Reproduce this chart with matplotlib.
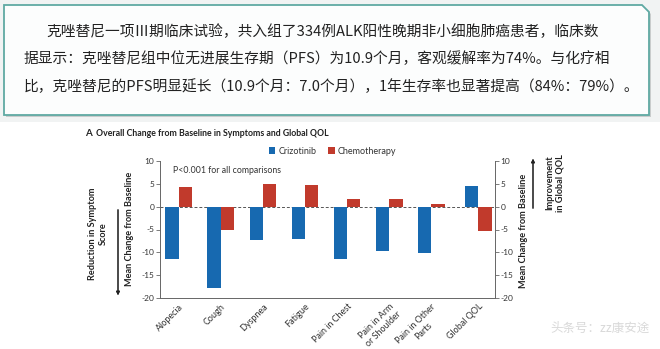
"""
Crizotinib vs chemotherapy: change from baseline in symptoms and global QOL,
with the Chinese summary box on top.
"""
import numpy as np
import matplotlib
matplotlib.use('Agg')
import matplotlib.pyplot as plt
from matplotlib.patches import Polygon, Rectangle

W, H = 660, 349

# --- data ---
categories = ["Alopecia", "Cough", "Dyspnea", "Fatigue", "Pain in Chest",
              "Pain in Arm\nor Shoulder", "Pain in Other\nParts", "Global QOL"]
crizotinib = [-11.5, -17.9, -7.3, -7.1, -11.5, -9.7, -10.1, 4.5]
chemotherapy = [4.2, -5.2, 5.0, 4.7, 1.6, 1.6, 0.5, -5.4]
yticks = [10, 5, 0, -5, -10, -15, -20]

summary_lines = [
    "克唑替尼一项Ⅲ期临床试验，共入组了334例ALK阳性晚期非小细胞肺癌患者，临床数",
    "据显示：克唑替尼组中位无进展生存期（PFS）为10.9个月，客观缓解率为74%。与化疗相",
    "比，克唑替尼的PFS明显延长（10.9个月：7.0个月），1年生存率也显著提高（84%：79%）。",
]

BLUE = '#1769b0'
RED = '#c13a2c'
INK = '#333333'
SANS = ['Lato', 'DejaVu Sans']
CJK = ['Noto Sans CJK SC', 'DejaVu Sans']


def fx(px):
    return px / W


def fy(py):
    return 1 - py / H


fig = plt.figure(figsize=(W / 100, H / 100), dpi=100, facecolor='white')

# --- summary box on top ---
fig.add_artist(Rectangle((0, fy(122)), 1, 122 / H, transform=fig.transFigure,
                         facecolor='#f1f3f3', edgecolor='none', zorder=0))
box = [(4, 5), (642, 5), (649, 12), (649, 115), (4, 115)]
shadow = [(x + 2, y + 2) for x, y in box]
fig.add_artist(Polygon([(fx(x), fy(y)) for x, y in shadow], closed=True,
                       transform=fig.transFigure, facecolor='#c9cccc',
                       edgecolor='none', zorder=1))
fig.add_artist(Polygon([(fx(x), fy(y)) for x, y in box], closed=True,
                       transform=fig.transFigure, facecolor='#fcfdfd',
                       edgecolor='#5fa9a3', linewidth=1.3, zorder=2))

for (x0, y0), line in zip([(46, 32), (24, 59), (24, 87)], summary_lines):
    fig.text(fx(x0), fy(y0), line, family=CJK, fontsize=10.6, color='#222222',
             ha='left', va='center', zorder=3)

# --- bar chart ---
ax = fig.add_axes([fx(160), fy(298), fx(495) - fx(160), fy(161) - fy(298)])
x = np.arange(len(categories), dtype=float)
x[-1] += 0.12
width = 0.32

ax.axhline(0, color='#555555', lw=0.7, ls=(0, (3, 2)), zorder=1)
ax.bar(x - width / 2, crizotinib, width, color=BLUE, label='Crizotinib', zorder=2)
ax.bar(x + width / 2, chemotherapy, width, color=RED, label='Chemotherapy', zorder=2)

ax.set_xlim(-0.45, 7.52)
ax.set_ylim(-20, 10)
ax.set_yticks(yticks)
ax.set_yticklabels([str(v) for v in yticks], family=SANS, fontsize=6, color=INK)
ax.set_xticks(x)
ax.set_xticklabels(categories, rotation=45, ha='right', rotation_mode='anchor',
                   multialignment='center', family=SANS, fontsize=6.5, color=INK)
ax.tick_params(axis='x', length=0, pad=3)
ax.tick_params(axis='y', length=3, width=0.6, color='#666666', pad=1)
for side in ['top', 'right']:
    ax.spines[side].set_visible(False)
for side in ['left', 'bottom']:
    ax.spines[side].set_color('#666666')
    ax.spines[side].set_linewidth(0.7)

ax2 = ax.twinx()
ax2.set_ylim(-20, 10)
ax2.set_yticks(yticks)
ax2.set_yticklabels([str(v) for v in yticks], family=SANS, fontsize=6, color=INK)
ax2.tick_params(axis='y', length=3, width=0.6, color='#666666', pad=1)
for side in ['top', 'left', 'bottom']:
    ax2.spines[side].set_visible(False)
ax2.spines['right'].set_color('#666666')
ax2.spines['right'].set_linewidth(0.7)

ax.text(0.04, 0.93, "P<0.001 for all comparisons", transform=ax.transAxes,
        family=SANS, fontsize=6.3, color=INK, ha='left', va='center')

ax.legend(loc='center left', bbox_to_anchor=(fx(264), fy(151)),
          bbox_transform=fig.transFigure, ncol=2, frameon=False,
          handlelength=0.75, handleheight=0.75, handletextpad=0.4,
          columnspacing=1.2, prop={'family': SANS, 'size': 6.5},
          labelcolor=INK, borderpad=0)

# title
fig.text(fx(85), fy(133), "A", family=SANS, fontsize=7, weight='bold',
         color='#222222', ha='left', va='center')
fig.text(fx(96), fy(133), "Overall Change from Baseline in Symptoms and Global QOL",
         family=SANS, fontsize=6.35, weight='bold', color='#222222',
         ha='left', va='center')

# axis labels and arrows
fig.text(fx(130), fy(229), "Mean Change from Baseline", rotation=90,
         family=SANS, fontsize=6.6, weight='bold', color='#222222',
         ha='center', va='center')
fig.text(fx(98), fy(234), "Reduction in Symptom\nScore", rotation=90,
         family=SANS, fontsize=6.6, weight='bold', color='#222222',
         ha='center', va='center', multialignment='center')
fig.text(fx(523), fy(231), "Mean Change from Baseline", rotation=90,
         family=SANS, fontsize=6.6, weight='bold', color='#222222',
         ha='center', va='center')
fig.text(fx(555), fy(183), "Improvement\nin Global QOL", rotation=90,
         family=SANS, fontsize=6.6, weight='bold', color='#222222',
         ha='center', va='center', multialignment='center')

arrow = dict(arrowstyle='-|>', color='#222222', lw=0.8, mutation_scale=5)
fig.add_artist(plt.annotate('', xy=(fx(118), fy(298)), xytext=(fx(118), fy(207)),
                            xycoords='figure fraction', textcoords='figure fraction',
                            arrowprops=arrow))
fig.add_artist(plt.annotate('', xy=(fx(533), fy(156)), xytext=(fx(533), fy(211)),
                            xycoords='figure fraction', textcoords='figure fraction',
                            arrowprops=arrow))

# watermark
fig.text(fx(600), fy(328), "头条号：zz康安途", family=CJK, fontsize=9,
         color='#d9d9d9', ha='center', va='center')

fig.savefig('out.png', dpi=100, facecolor='white')
